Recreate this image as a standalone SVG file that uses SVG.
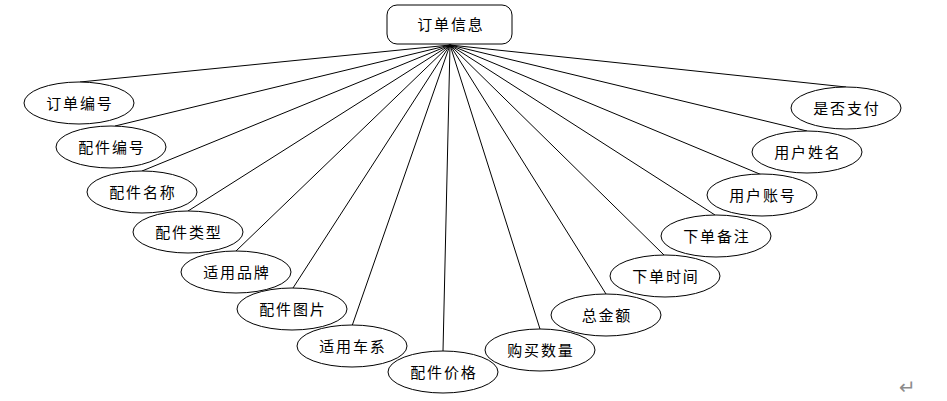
<svg xmlns="http://www.w3.org/2000/svg" width="947" height="401" viewBox="0 0 947 401">
<style>
.bg{fill:#ffffff}
.node ellipse,.node rect{fill:#ffffff;stroke:#000000;stroke-width:1}
.node text{font-family:"Noto Sans CJK SC","Liberation Sans",sans-serif;font-size:15px;letter-spacing:1.8px;text-anchor:middle;fill:#000000}
.conn line{stroke:#000000;stroke-width:1}
.mark{font-family:"DejaVu Sans",sans-serif;font-size:20px;fill:#8c8c8c}
</style>
<rect class="bg" x="0" y="0" width="947" height="401"/>
<g id="connectors" class="conn">
<line x1="450" y1="45" x2="80" y2="82"/>
<line x1="450" y1="45" x2="115" y2="126"/>
<line x1="450" y1="45" x2="142" y2="171"/>
<line x1="450" y1="45" x2="188" y2="211"/>
<line x1="450" y1="45" x2="236" y2="251"/>
<line x1="450" y1="45" x2="293" y2="288"/>
<line x1="450" y1="45" x2="352" y2="326"/>
<line x1="450" y1="45" x2="443" y2="351"/>
<line x1="450" y1="45" x2="540" y2="329"/>
<line x1="450" y1="45" x2="606" y2="294"/>
<line x1="450" y1="45" x2="664" y2="255"/>
<line x1="450" y1="45" x2="715" y2="215"/>
<line x1="450" y1="45" x2="762" y2="175"/>
<line x1="450" y1="45" x2="807" y2="131"/>
<line x1="450" y1="45" x2="846" y2="87"/>
</g>
<g id="n-order" class="node"><rect x="387" y="5" width="125" height="39" rx="10" ry="10"/><text x="450.9" y="30">订单信息</text></g>
<g id="n1" class="node"><ellipse cx="79" cy="103" rx="55" ry="21"/><text x="79.9" y="109">订单编号</text></g>
<g id="n2" class="node"><ellipse cx="111" cy="147" rx="55" ry="21"/><text x="111.9" y="153">配件编号</text></g>
<g id="n3" class="node"><ellipse cx="142" cy="192" rx="55" ry="21"/><text x="142.9" y="198">配件名称</text></g>
<g id="n4" class="node"><ellipse cx="188" cy="232" rx="55" ry="21"/><text x="188.9" y="238">配件类型</text></g>
<g id="n5" class="node"><ellipse cx="236" cy="272" rx="55" ry="21"/><text x="236.9" y="278">适用品牌</text></g>
<g id="n6" class="node"><ellipse cx="292" cy="309" rx="55" ry="21"/><text x="292.9" y="315">配件图片</text></g>
<g id="n7" class="node"><ellipse cx="352" cy="346" rx="55" ry="21"/><text x="352.9" y="352">适用车系</text></g>
<g id="n8" class="node"><ellipse cx="443" cy="372" rx="55" ry="21"/><text x="443.9" y="378">配件价格</text></g>
<g id="n9" class="node"><ellipse cx="540" cy="350" rx="55" ry="21"/><text x="540.9" y="356">购买数量</text></g>
<g id="n10" class="node"><ellipse cx="606" cy="315" rx="55" ry="21"/><text x="606.9" y="321">总金额</text></g>
<g id="n11" class="node"><ellipse cx="665" cy="276" rx="55" ry="21"/><text x="665.9" y="282">下单时间</text></g>
<g id="n12" class="node"><ellipse cx="716" cy="236" rx="55" ry="21"/><text x="716.9" y="242">下单备注</text></g>
<g id="n13" class="node"><ellipse cx="762" cy="195" rx="55" ry="21"/><text x="762.9" y="201">用户账号</text></g>
<g id="n14" class="node"><ellipse cx="807" cy="152" rx="55" ry="21"/><text x="807.9" y="158">用户姓名</text></g>
<g id="n15" class="node"><ellipse cx="846" cy="108" rx="55" ry="21"/><text x="846.9" y="114">是否支付</text></g>
<text class="mark" x="899" y="394">↵</text>
</svg>
